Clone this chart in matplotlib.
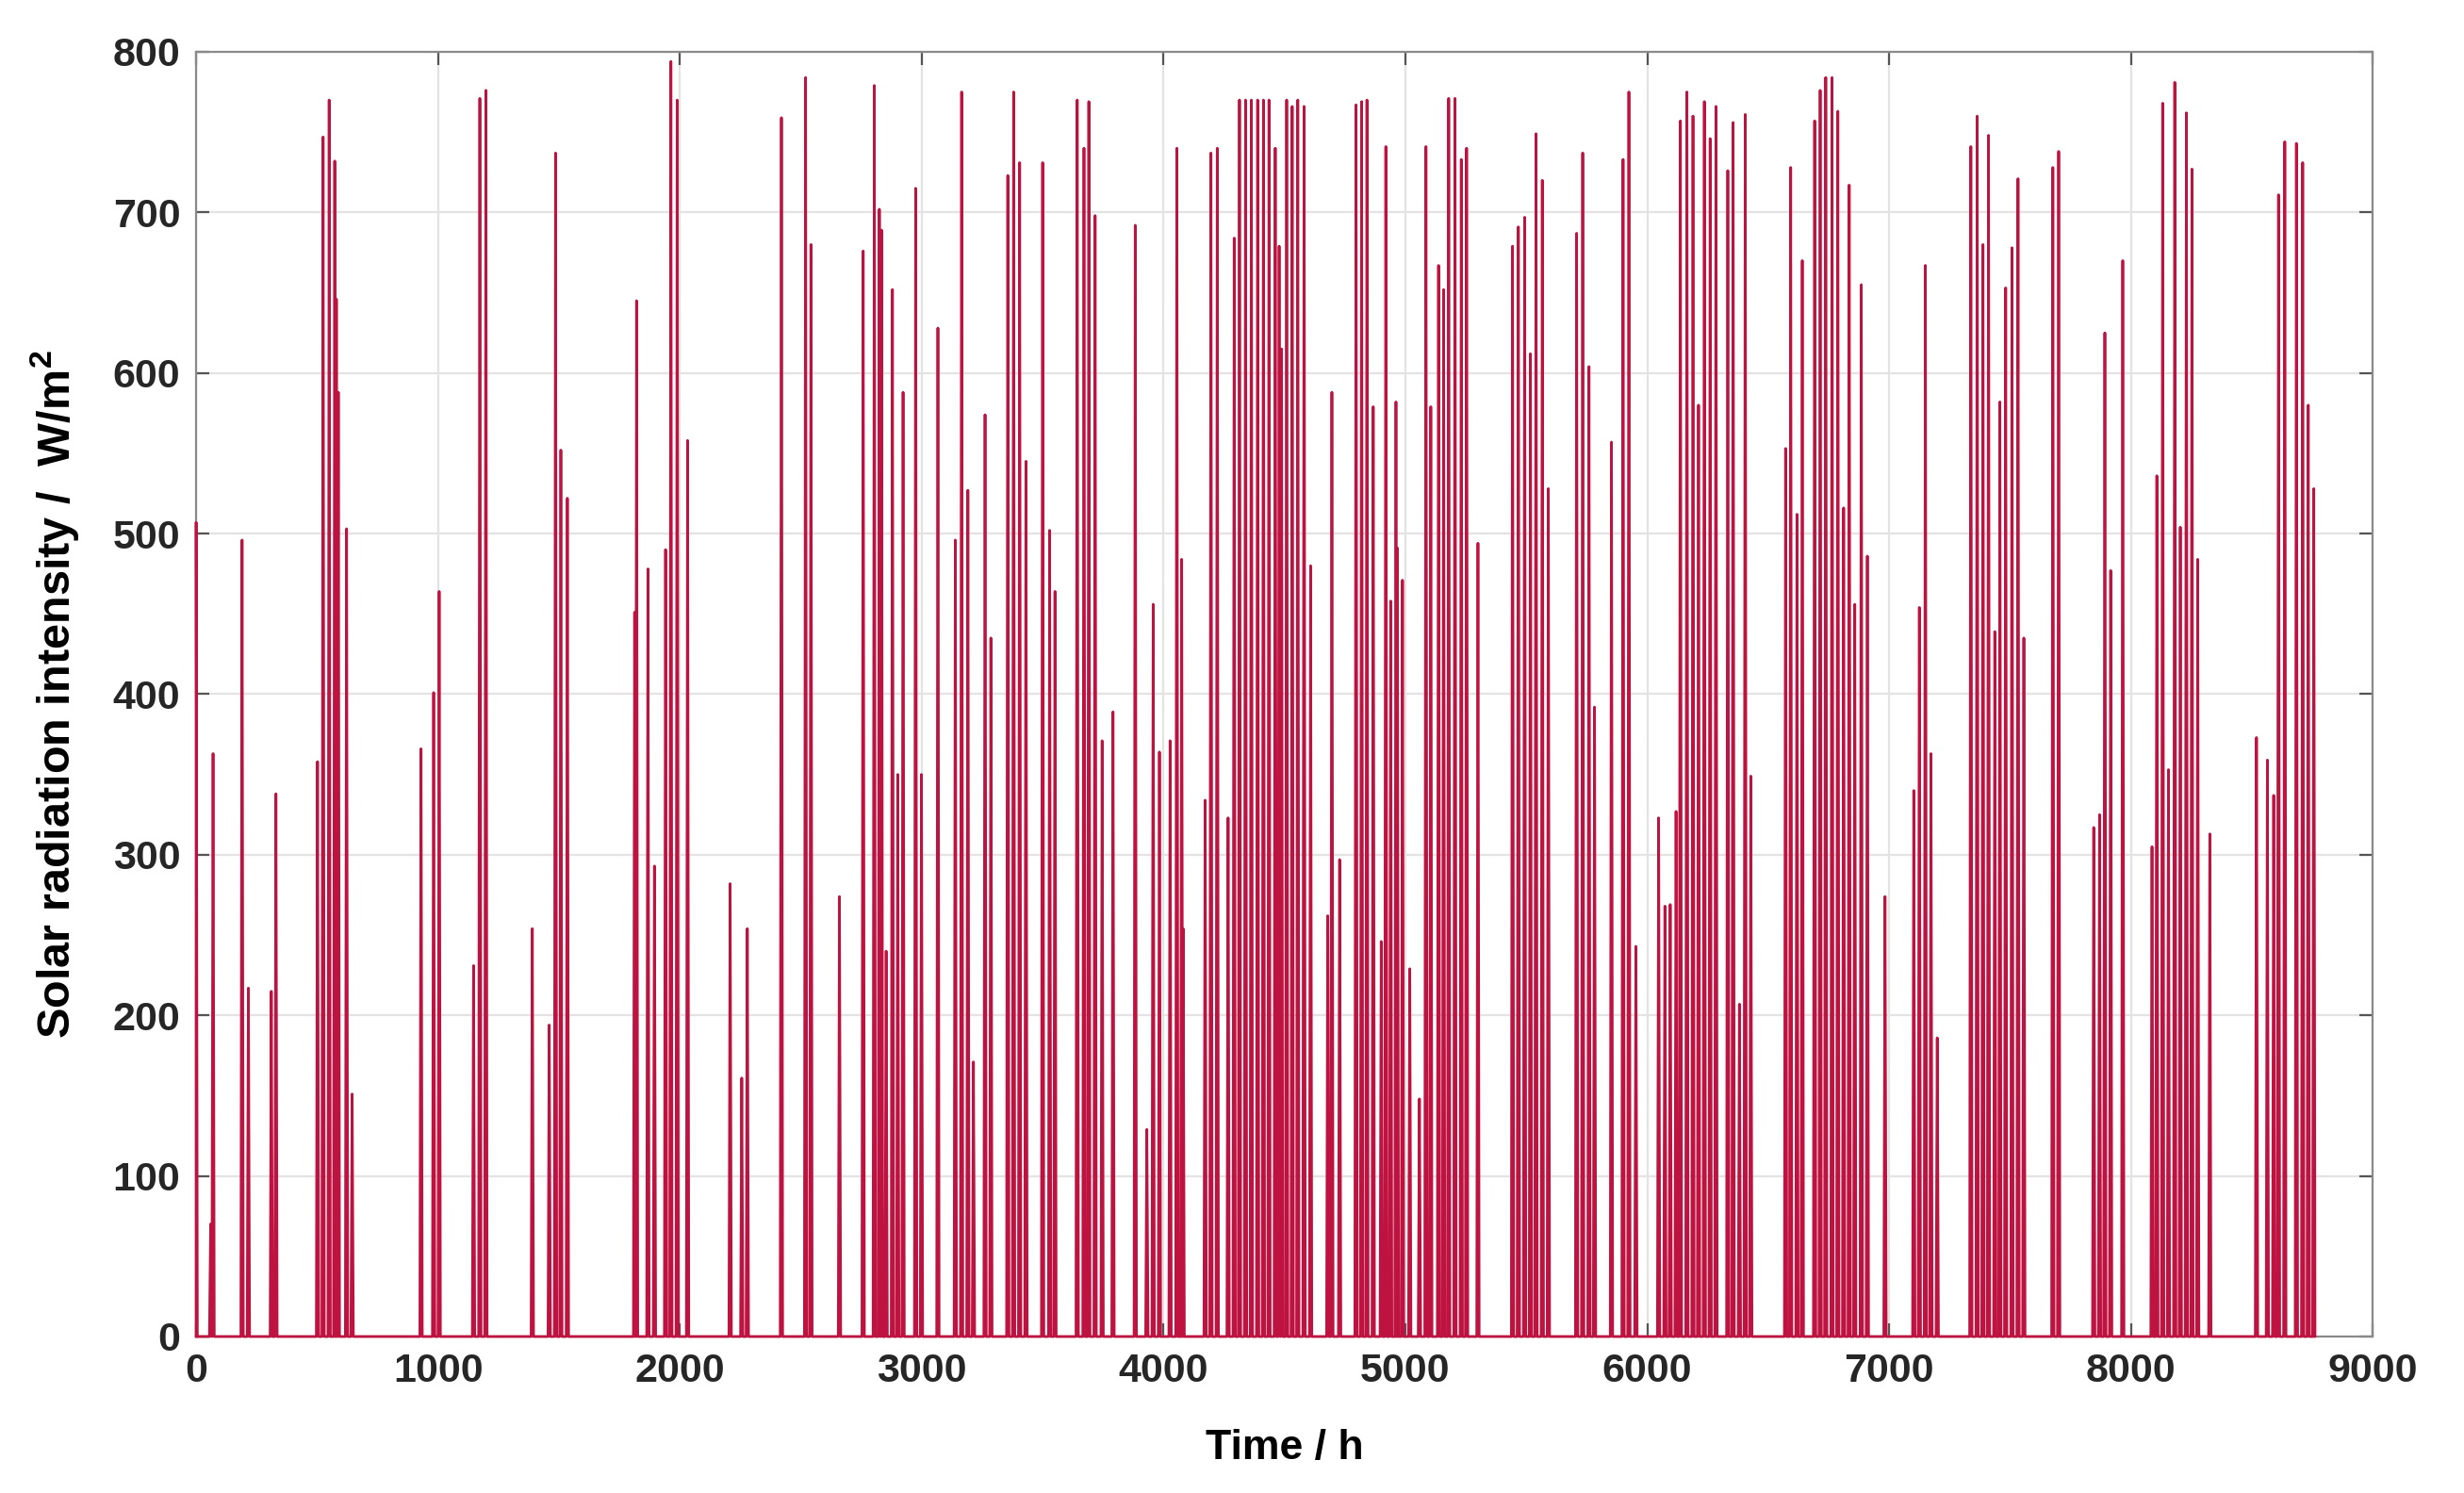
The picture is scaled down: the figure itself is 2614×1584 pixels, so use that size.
import numpy as np
import matplotlib
matplotlib.use("Agg")
import matplotlib.pyplot as plt

# daily peaks: hour of the peak and peak value (W/m2)
spike_hours = [
    0, 60, 70, 190, 216, 311, 330, 502, 525, 550, 573, 580, 588, 622, 645,
    930, 982, 1005, 1147, 1173, 1198, 1390, 1460, 1486, 1508, 1535,
    1813, 1821, 1868, 1895, 1941, 1963, 1989, 2032, 2208, 2256, 2279,
    2420, 2520, 2542, 2660, 2758, 2804, 2825, 2834, 2853, 2879, 2901, 2923,
    2975, 2999, 3067, 3139, 3165, 3191, 3214, 3262, 3286, 3356, 3380, 3405,
    3431, 3500, 3529, 3551, 3643, 3671, 3691, 3717, 3746, 3791, 3883, 3931,
    3957, 3983, 4027, 4055, 4075, 4081, 4172, 4196, 4222, 4267, 4292, 4314,
    4339, 4363, 4389, 4413, 4436, 4462, 4478, 4488, 4509, 4532, 4555, 4581,
    4608, 4679, 4696, 4728, 4796, 4819, 4841, 4867, 4900, 4919, 4939, 4961,
    4967, 4988, 5018, 5058, 5085, 5105, 5137, 5158, 5179, 5205, 5231, 5253,
    5300, 5443, 5467, 5493, 5517, 5540, 5566, 5591, 5708, 5733, 5759, 5782,
    5852, 5900, 5924, 5953, 6047, 6073, 6095, 6119, 6137, 6164, 6189, 6212,
    6236, 6260, 6284, 6333, 6355, 6381, 6405, 6428, 6572, 6593, 6619, 6641,
    6692, 6715, 6738, 6764, 6788, 6812, 6835, 6858, 6885, 6910, 6983,
    7102, 7125, 7150, 7173, 7199, 7338, 7364, 7388, 7411, 7437, 7458, 7482,
    7508, 7533, 7557, 7677, 7701, 7846, 7870, 7892, 7916, 7966,
    8087, 8107, 8131, 8155, 8181, 8204, 8229, 8252, 8276, 8326,
    8519, 8564, 8590, 8610, 8636, 8684, 8710, 8733, 8756,
]
spike_peaks = [
    507, 70, 363, 496, 217, 215, 338, 358, 747, 770, 732, 646, 588, 503, 151,
    366, 401, 464, 231, 771, 776, 254, 194, 737, 552, 522,
    451, 645, 478, 293, 490, 794, 770, 558, 282, 161, 254,
    759, 784, 680, 274, 676, 779, 702, 689, 240, 652, 350, 588,
    715, 350, 628, 496, 775, 527, 171, 574, 435, 723, 775, 731,
    545, 731, 502, 464, 770, 740, 769, 698, 371, 389, 692, 129,
    456, 364, 371, 740, 484, 254, 334, 737, 740, 323, 684, 770,
    770, 770, 770, 770, 770, 740, 679, 615, 770, 766, 770, 766,
    480, 262, 588, 297, 767, 769, 770, 579, 246, 741, 458, 582,
    491, 471, 229, 148, 741, 579, 667, 652, 771, 771, 733, 740,
    494, 679, 691, 697, 612, 749, 720, 528, 687, 737, 604, 392,
    557, 733, 775, 243, 323, 268, 269, 327, 757, 775, 760, 580,
    769, 746, 766, 726, 756, 207, 761, 349, 553, 728, 512, 670,
    757, 776, 784, 784, 763, 516, 717, 456, 655, 486, 274,
    340, 454, 667, 363, 186, 741, 760, 680, 748, 439, 582, 653,
    678, 721, 435, 728, 738, 317, 325, 625, 477, 670,
    305, 536, 768, 353, 781, 504, 762, 727, 484, 313,
    373, 359, 337, 711, 744, 743, 731, 580, 528,
]

x_ticks = list(range(0, 9001, 1000))
y_ticks = list(range(0, 801, 100))

# build the hourly line: zero at night, one peak per sunny day
t, g = [], []
for h, p in zip(spike_hours, spike_peaks):
    t += [max(h - 5, 0), h, h + 5]
    g += [0, p, 0]
t += [8760]
g += [0]

plt.rcParams["font.family"] = ["Liberation Sans", "DejaVu Sans"]
plt.rcParams["font.weight"] = "bold"
plt.rcParams["mathtext.default"] = "regular"

fig = plt.figure(figsize=(13.07, 7.92), dpi=200)
ax = fig.add_axes([0.0796, 0.1048, 0.8834, 0.8605])

ax.plot(t, g, color="#BE1240", linewidth=1.0, zorder=3, clip_on=False)

ax.set_xlim(0, 9000)
ax.set_ylim(0, 800)
ax.set_xticks(x_ticks)
ax.set_yticks(y_ticks)
ax.grid(True, color="#E3E3E3", linewidth=0.8)
ax.set_axisbelow(True)
ax.tick_params(direction="in", top=True, right=True, length=5,
               color="#555555", labelsize=15.5, labelcolor="#262626", pad=6)
for s in ax.spines.values():
    s.set_color("#8A8A8A")
    s.set_linewidth(0.8)

ax.set_xlabel("Time / h", fontsize=16, fontweight="bold", labelpad=15)
ax.set_ylabel(r"Solar radiation intensity /  W/m$^{2}$", fontsize=17.5,
              fontweight="bold", labelpad=12)

fig.savefig("out.png", dpi=200)
